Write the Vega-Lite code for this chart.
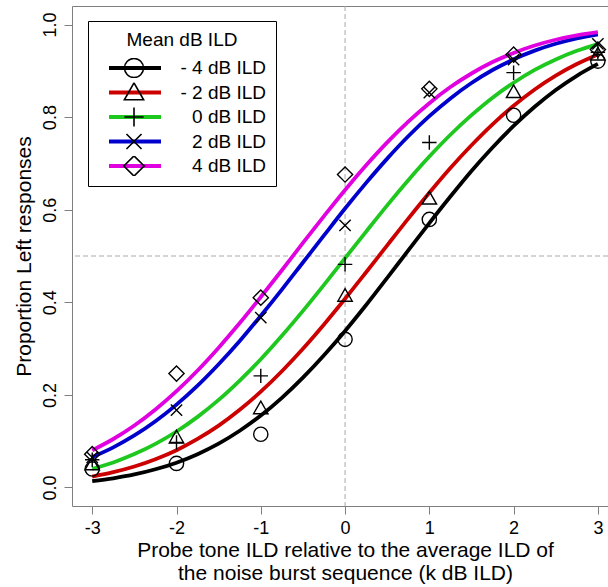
{
  "$schema": "https://vega.github.io/schema/vega-lite/v6.json",
  "width": 536,
  "height": 500,
  "autosize": {"type": "none"},
  "padding": {"left": 72, "top": 6, "right": 0, "bottom": 81},
  "background": "white",
  "config": {
    "font": "Liberation Sans",
    "view": {"stroke": "#7f7f7f", "strokeWidth": 1},
    "axis": {"grid": false, "domain": false, "tickColor": "#7f7f7f", "tickSize": 8, "labelFontSize": 18, "titleFontSize": 21, "labelColor": "black", "titleColor": "black", "titleFontWeight": "normal", "labelFont": "Liberation Sans", "titleFont": "Liberation Sans"},
    "legend": {"titleFont": "Liberation Sans", "labelFont": "Liberation Sans"}
  },
  "datasets": {
    "curves": [
      {"x": -3, "p": 0.0136, "ild": "- 4 dB ILD"}, {"x": -2.75, "p": 0.0199, "ild": "- 4 dB ILD"}, {"x": -2.5, "p": 0.0281, "ild": "- 4 dB ILD"}, {"x": -2.25, "p": 0.0393, "ild": "- 4 dB ILD"}, {"x": -2, "p": 0.0536, "ild": "- 4 dB ILD"}, {"x": -1.75, "p": 0.072, "ild": "- 4 dB ILD"}, {"x": -1.5, "p": 0.0947, "ild": "- 4 dB ILD"}, {"x": -1.25, "p": 0.1225, "ild": "- 4 dB ILD"}, {"x": -1, "p": 0.1553, "ild": "- 4 dB ILD"}, {"x": -0.75, "p": 0.1936, "ild": "- 4 dB ILD"}, {"x": -0.5, "p": 0.2372, "ild": "- 4 dB ILD"}, {"x": -0.25, "p": 0.2856, "ild": "- 4 dB ILD"}, {"x": 0, "p": 0.3381, "ild": "- 4 dB ILD"}, {"x": 0.25, "p": 0.3941, "ild": "- 4 dB ILD"}, {"x": 0.5, "p": 0.4527, "ild": "- 4 dB ILD"}, {"x": 0.75, "p": 0.512, "ild": "- 4 dB ILD"}, {"x": 1, "p": 0.571, "ild": "- 4 dB ILD"}, {"x": 1.25, "p": 0.6284, "ild": "- 4 dB ILD"}, {"x": 1.5, "p": 0.6836, "ild": "- 4 dB ILD"}, {"x": 1.75, "p": 0.7344, "ild": "- 4 dB ILD"}, {"x": 2, "p": 0.7809, "ild": "- 4 dB ILD"}, {"x": 2.25, "p": 0.8223, "ild": "- 4 dB ILD"}, {"x": 2.5, "p": 0.8586, "ild": "- 4 dB ILD"}, {"x": 2.75, "p": 0.8893, "ild": "- 4 dB ILD"}, {"x": 3, "p": 0.9149, "ild": "- 4 dB ILD"},
      {"x": -3, "p": 0.0236, "ild": "- 2 dB ILD"}, {"x": -2.75, "p": 0.033, "ild": "- 2 dB ILD"}, {"x": -2.5, "p": 0.0452, "ild": "- 2 dB ILD"}, {"x": -2.25, "p": 0.061, "ild": "- 2 dB ILD"}, {"x": -2, "p": 0.0805, "ild": "- 2 dB ILD"}, {"x": -1.75, "p": 0.1049, "ild": "- 2 dB ILD"}, {"x": -1.5, "p": 0.1336, "ild": "- 2 dB ILD"}, {"x": -1.25, "p": 0.1678, "ild": "- 2 dB ILD"}, {"x": -1, "p": 0.2069, "ild": "- 2 dB ILD"}, {"x": -0.75, "p": 0.251, "ild": "- 2 dB ILD"}, {"x": -0.5, "p": 0.2996, "ild": "- 2 dB ILD"}, {"x": -0.25, "p": 0.3521, "ild": "- 2 dB ILD"}, {"x": 0, "p": 0.4076, "ild": "- 2 dB ILD"}, {"x": 0.25, "p": 0.465, "ild": "- 2 dB ILD"}, {"x": 0.5, "p": 0.5231, "ild": "- 2 dB ILD"}, {"x": 0.75, "p": 0.5808, "ild": "- 2 dB ILD"}, {"x": 1, "p": 0.6367, "ild": "- 2 dB ILD"}, {"x": 1.25, "p": 0.6901, "ild": "- 2 dB ILD"}, {"x": 1.5, "p": 0.7393, "ild": "- 2 dB ILD"}, {"x": 1.75, "p": 0.7845, "ild": "- 2 dB ILD"}, {"x": 2, "p": 0.8245, "ild": "- 2 dB ILD"}, {"x": 2.25, "p": 0.8597, "ild": "- 2 dB ILD"}, {"x": 2.5, "p": 0.8897, "ild": "- 2 dB ILD"}, {"x": 2.75, "p": 0.9147, "ild": "- 2 dB ILD"}, {"x": 3, "p": 0.9354, "ild": "- 2 dB ILD"},
      {"x": -3, "p": 0.0401, "ild": "0 dB ILD"}, {"x": -2.75, "p": 0.0541, "ild": "0 dB ILD"}, {"x": -2.5, "p": 0.0721, "ild": "0 dB ILD"}, {"x": -2.25, "p": 0.0941, "ild": "0 dB ILD"}, {"x": -2, "p": 0.1209, "ild": "0 dB ILD"}, {"x": -1.75, "p": 0.1525, "ild": "0 dB ILD"}, {"x": -1.5, "p": 0.1891, "ild": "0 dB ILD"}, {"x": -1.25, "p": 0.2309, "ild": "0 dB ILD"}, {"x": -1, "p": 0.277, "ild": "0 dB ILD"}, {"x": -0.75, "p": 0.3276, "ild": "0 dB ILD"}, {"x": -0.5, "p": 0.3814, "ild": "0 dB ILD"}, {"x": -0.25, "p": 0.4377, "ild": "0 dB ILD"}, {"x": 0, "p": 0.4954, "ild": "0 dB ILD"}, {"x": 0.25, "p": 0.5528, "ild": "0 dB ILD"}, {"x": 0.5, "p": 0.6094, "ild": "0 dB ILD"}, {"x": 0.75, "p": 0.6637, "ild": "0 dB ILD"}, {"x": 1, "p": 0.7148, "ild": "0 dB ILD"}, {"x": 1.25, "p": 0.7619, "ild": "0 dB ILD"}, {"x": 1.5, "p": 0.8042, "ild": "0 dB ILD"}, {"x": 1.75, "p": 0.842, "ild": "0 dB ILD"}, {"x": 2, "p": 0.8742, "ild": "0 dB ILD"}, {"x": 2.25, "p": 0.9019, "ild": "0 dB ILD"}, {"x": 2.5, "p": 0.9245, "ild": "0 dB ILD"}, {"x": 2.75, "p": 0.9432, "ild": "0 dB ILD"}, {"x": 3, "p": 0.9578, "ild": "0 dB ILD"},
      {"x": -3, "p": 0.0656, "ild": "2 dB ILD"}, {"x": -2.75, "p": 0.0867, "ild": "2 dB ILD"}, {"x": -2.5, "p": 0.1124, "ild": "2 dB ILD"}, {"x": -2.25, "p": 0.1431, "ild": "2 dB ILD"}, {"x": -2, "p": 0.179, "ild": "2 dB ILD"}, {"x": -1.75, "p": 0.22, "ild": "2 dB ILD"}, {"x": -1.5, "p": 0.2662, "ild": "2 dB ILD"}, {"x": -1.25, "p": 0.3164, "ild": "2 dB ILD"}, {"x": -1, "p": 0.3709, "ild": "2 dB ILD"}, {"x": -0.75, "p": 0.4274, "ild": "2 dB ILD"}, {"x": -0.5, "p": 0.486, "ild": "2 dB ILD"}, {"x": -0.25, "p": 0.5445, "ild": "2 dB ILD"}, {"x": 0, "p": 0.6025, "ild": "2 dB ILD"}, {"x": 0.25, "p": 0.6579, "ild": "2 dB ILD"}, {"x": 0.5, "p": 0.7103, "ild": "2 dB ILD"}, {"x": 0.75, "p": 0.7586, "ild": "2 dB ILD"}, {"x": 1, "p": 0.802, "ild": "2 dB ILD"}, {"x": 1.25, "p": 0.8404, "ild": "2 dB ILD"}, {"x": 1.5, "p": 0.8736, "ild": "2 dB ILD"}, {"x": 1.75, "p": 0.9017, "ild": "2 dB ILD"}, {"x": 2, "p": 0.9248, "ild": "2 dB ILD"}, {"x": 2.25, "p": 0.9436, "ild": "2 dB ILD"}, {"x": 2.5, "p": 0.9584, "ild": "2 dB ILD"}, {"x": 2.75, "p": 0.97, "ild": "2 dB ILD"}, {"x": 3, "p": 0.9787, "ild": "2 dB ILD"},
      {"x": -3, "p": 0.0802, "ild": "4 dB ILD"}, {"x": -2.75, "p": 0.1047, "ild": "4 dB ILD"}, {"x": -2.5, "p": 0.1338, "ild": "4 dB ILD"}, {"x": -2.25, "p": 0.1684, "ild": "4 dB ILD"}, {"x": -2, "p": 0.208, "ild": "4 dB ILD"}, {"x": -1.75, "p": 0.2527, "ild": "4 dB ILD"}, {"x": -1.5, "p": 0.302, "ild": "4 dB ILD"}, {"x": -1.25, "p": 0.3551, "ild": "4 dB ILD"}, {"x": -1, "p": 0.4114, "ild": "4 dB ILD"}, {"x": -0.75, "p": 0.4693, "ild": "4 dB ILD"}, {"x": -0.5, "p": 0.5283, "ild": "4 dB ILD"}, {"x": -0.25, "p": 0.5862, "ild": "4 dB ILD"}, {"x": 0, "p": 0.6427, "ild": "4 dB ILD"}, {"x": 0.25, "p": 0.6959, "ild": "4 dB ILD"}, {"x": 0.5, "p": 0.7454, "ild": "4 dB ILD"}, {"x": 0.75, "p": 0.7903, "ild": "4 dB ILD"}, {"x": 1, "p": 0.8301, "ild": "4 dB ILD"}, {"x": 1.25, "p": 0.8649, "ild": "4 dB ILD"}, {"x": 1.5, "p": 0.8942, "ild": "4 dB ILD"}, {"x": 1.75, "p": 0.9189, "ild": "4 dB ILD"}, {"x": 2, "p": 0.9387, "ild": "4 dB ILD"}, {"x": 2.25, "p": 0.9547, "ild": "4 dB ILD"}, {"x": 2.5, "p": 0.9671, "ild": "4 dB ILD"}, {"x": 2.75, "p": 0.9765, "ild": "4 dB ILD"}, {"x": 3, "p": 0.9835, "ild": "4 dB ILD"}
    ],
    "pts": [
      {"x": -3, "p": 0.04, "mean": "-4"}, {"x": -2, "p": 0.052, "mean": "-4"}, {"x": -1, "p": 0.115, "mean": "-4"}, {"x": 0, "p": 0.32, "mean": "-4"}, {"x": 1, "p": 0.579, "mean": "-4"}, {"x": 2, "p": 0.804, "mean": "-4"}, {"x": 3, "p": 0.921, "mean": "-4"},
      {"x": -3, "p": 0.05, "mean": "-2"}, {"x": -2, "p": 0.108, "mean": "-2"}, {"x": -1, "p": 0.171, "mean": "-2"}, {"x": 0, "p": 0.414, "mean": "-2"}, {"x": 1, "p": 0.624, "mean": "-2"}, {"x": 2, "p": 0.854, "mean": "-2"}, {"x": 3, "p": 0.935, "mean": "-2"},
      {"x": -3, "p": 0.06, "mean": "0"}, {"x": -2, "p": 0.097, "mean": "0"}, {"x": -1, "p": 0.241, "mean": "0"}, {"x": 0, "p": 0.482, "mean": "0"}, {"x": 1, "p": 0.745, "mean": "0"}, {"x": 2, "p": 0.896, "mean": "0"}, {"x": 3, "p": 0.94, "mean": "0"},
      {"x": -3, "p": 0.065, "mean": "2"}, {"x": -2, "p": 0.167, "mean": "2"}, {"x": -1, "p": 0.367, "mean": "2"}, {"x": 0, "p": 0.566, "mean": "2"}, {"x": 1, "p": 0.853, "mean": "2"}, {"x": 2, "p": 0.924, "mean": "2"}, {"x": 3, "p": 0.958, "mean": "2"},
      {"x": -3, "p": 0.072, "mean": "4"}, {"x": -2, "p": 0.246, "mean": "4"}, {"x": -1, "p": 0.41, "mean": "4"}, {"x": 0, "p": 0.676, "mean": "4"}, {"x": 1, "p": 0.861, "mean": "4"}, {"x": 2, "p": 0.935, "mean": "4"}, {"x": 3, "p": 0.946, "mean": "4"}
    ]
  },
  "layer": [
    {
      "data": {"values": [{}]},
      "mark": {"type": "rule", "color": "#aaaaaa", "strokeDash": [5, 3], "strokeWidth": 1},
      "encoding": {"x": {"datum": 0, "type": "quantitative", "scale": {"domain": [-3.24, 3.12], "nice": false, "zero": false}}}
    },
    {
      "data": {"values": [{}]},
      "mark": {"type": "rule", "color": "#aaaaaa", "strokeDash": [5, 3], "strokeWidth": 1},
      "encoding": {"y": {"datum": 0.5, "type": "quantitative", "scale": {"domain": [-0.04, 1.04], "nice": false, "zero": false}}}
    },
    {
      "data": {"name": "curves"},
      "mark": {"type": "line", "strokeWidth": 3.8, "interpolate": "monotone"},
      "encoding": {
        "x": {"field": "x", "type": "quantitative", "scale": {"domain": [-3.24, 3.12], "nice": false, "zero": false},
          "axis": {"values": [-3, -2, -1, 0, 1, 2, 3], "labelExpr": "datum.value + ''", "labelPadding": 5, "titlePadding": 2, "titleLineHeight": 23, "titleX": 273,
            "title": ["Probe tone ILD relative to the average ILD of", "the noise burst sequence (k dB ILD)"]}},
        "y": {"field": "p", "type": "quantitative", "scale": {"domain": [-0.04, 1.04], "nice": false, "zero": false},
          "axis": {"values": [0, 0.2, 0.4, 0.6, 0.8, 1], "format": ".1f", "labelAngle": 270, "labelAlign": "center", "labelBaseline": "bottom", "labelPadding": 5, "titlePadding": 7, "title": "Proportion Left responses"}},
        "color": {"field": "ild", "type": "nominal",
          "scale": {"domain": ["- 4 dB ILD", "- 2 dB ILD", "0 dB ILD", "2 dB ILD", "4 dB ILD"], "range": ["#000000", "#CD0000", "#1EC81E", "#0000CD", "#E000E0"]},
          "legend": {"orient": "none", "legendX": 16, "legendY": 15, "title": "Mean dB ILD", "titleFontSize": 19, "titleFontWeight": "normal", "titleAnchor": "middle", "titlePadding": 8, "titleColor": "black",
            "labelFontSize": 19, "labelColor": "black", "labelAlign": "right", "labelOffset": 103, "labelLimit": 400, "labelExpr": "datum.label + '\u00a0\u00a0'",
            "symbolType": "stroke", "symbolSize": 2704, "symbolStrokeWidth": 4, "symbolOffset": 9, "clipHeight": 20, "rowPadding": 4.5,
            "padding": 10, "strokeColor": "black", "fillColor": "white", "cornerRadius": 0}}
      }
    },
    {
      "data": {"name": "pts"},
      "mark": {"type": "point", "filled": false, "color": "black", "opacity": 1, "strokeWidth": 1.4, "size": 1521},
      "encoding": {
        "x": {"field": "x", "type": "quantitative", "scale": {"domain": [-3.24, 3.12], "nice": false, "zero": false}},
        "y": {"field": "p", "type": "quantitative", "scale": {"domain": [-0.04, 1.04], "nice": false, "zero": false}},
        "shape": {"field": "mean", "type": "nominal",
          "scale": {"domain": ["-4", "-2", "0", "2", "4"],
            "range": ["M0.365,0A0.365,0.365,0,1,1,-0.365,0A0.365,0.365,0,1,1,0.365,0Z", "M0,-0.37L0.37,0.28L-0.37,0.28Z", "M-0.37,0L0.37,0M0,-0.37L0,0.37", "M-0.29,-0.29L0.29,0.29M-0.29,0.29L0.29,-0.29", "M0,-0.39L0.39,0L0,0.39L-0.39,0Z"]},
          "legend": {"orient": "none", "legendX": 16, "legendY": 15, "title": "Mean dB ILD", "titleFontSize": 19, "titleFontWeight": "normal", "titleAnchor": "middle", "titlePadding": 8, "titleOpacity": 0,
            "labelFontSize": 19, "labelAlign": "right", "labelOffset": 103, "labelLimit": 400, "labelExpr": "''",
            "symbolSize": 2704, "symbolStrokeWidth": 1.6, "symbolOffset": 9, "clipHeight": 20, "rowPadding": 4.5,
            "padding": 10,
            "encode": {"symbols": {"update": {"stroke": {"value": "black"}, "strokeOpacity": {"value": 1}, "opacity": {"value": 1}, "fill": {"value": "white"}, "fillOpacity": {"value": 1}}}}}}
      }
    }
  ]
}
